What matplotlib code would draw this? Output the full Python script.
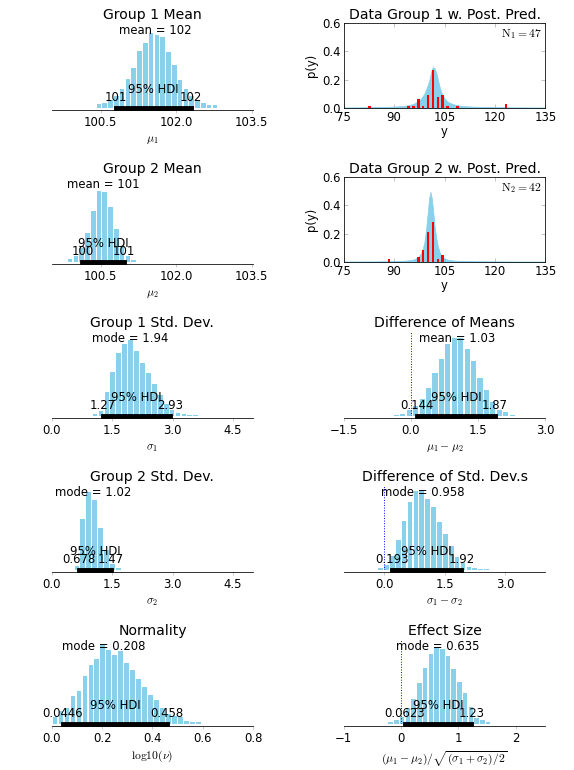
# BEST-style posterior summary: 5x2 panels

import numpy as np
import matplotlib
matplotlib.use('Agg')
from matplotlib import pyplot as plt
from matplotlib.transforms import blended_transform_factory
from matplotlib.ticker import MultipleLocator

plt.rcParams['font.family'] = ['DejaVu Sans']
plt.rcParams['font.size'] = 12
plt.rcParams['mathtext.fontset'] = 'cm'

pretty_blue = '#89d1ea'

# ---- posterior histograms (bar heights, % of tallest bar) ----
mu1_start, mu1_w = 100.47, 0.115
mu1_hist = [5, 6.5, 10, 16, 25, 39, 53, 76, 87, 100, 97, 94, 74, 57, 37, 25, 16, 10, 6.5, 4, 4]
mu1_mean = 101.58
mu1_hdi = [100.8, 102.3]

mu2_start, mu2_w = 99.895, 0.115
mu2_hist = [4, 8, 20, 40, 72, 100, 98, 78, 47, 22, 8, 3]
mu2_mean = 100.55
mu2_hdi = [100.14, 100.97]

sd1_start, sd1_w = 1.077, 0.147
sd1_hist = [3, 6, 31, 57.5, 83, 95, 100, 86, 70, 57, 42, 27, 15, 7, 3.5, 1.8, 1.3, 1.3]
sd1_mode = 1.94
sd1_hdi = [1.27, 2.93]

sd2_start, sd2_w = 0.626, 0.147
sd2_hist = [5, 66, 100, 90.5, 54, 25, 8, 2.6]
sd2_mode = 1.02
sd2_hdi = [0.678, 1.47]

dmu_start, dmu_w = -0.324, 0.1435
dmu_hist = [1.3, 2.6, 7, 13, 21, 35.5, 55, 73, 92, 100, 100, 86, 70, 49, 33, 17.5, 7, 4.3, 1.3]
dmu_mean = 1.03
dmu_hdi = [0.144, 1.87]

dsd_start, dsd_w = -0.087, 0.146
dsd_hist = [2.5, 6, 17, 37.5, 61, 86, 99, 100, 89.5, 79, 60, 45, 30, 16.5, 8, 3.4, 1.7, 1.3, 1.3]
dsd_mode = 0.958
dsd_hdi = [0.193, 1.92]

nu_start, nu_w = 0.013, 0.0238
nu_hist = [8, 16, 20.5, 35, 41, 60, 74, 82, 100, 93, 86.5, 91.5, 77, 68, 57, 47, 36, 30, 20, 13,
           9.7, 8, 3.4, 2, 2]
nu_mode = 0.208
nu_hdi = [0.0446, 0.458]

es_start, es_w = -0.18, 0.1
es_hist = [2.6, 5.6, 9, 20, 32, 53, 73, 90.5, 100, 98, 88, 71, 55, 40, 22, 8, 4.8, 1.7]
es_mode = 0.635
es_hdi = [0.0623, 1.23]

# ---- observed data (binned) ----
data_bin_w = 1.45
y1_centers = [82.7, 94.3, 95.7, 97.2, 98.6, 100.1, 101.5, 103.0, 104.4, 105.9, 108.8, 123.3]
y1_counts = [1, 1, 1, 4, 1, 6, 18, 5, 6, 1, 1, 2]
y2_centers = [88.5, 97.2, 98.6, 100.1, 101.5, 103.0, 104.4]
y2_counts = [1, 2, 5, 13, 17, 1, 3]

# ---- posterior predictive envelope (upper edge of the curve bundle) ----
pp1_x = [75, 80, 85, 90, 93, 95, 96, 97, 98, 99, 100, 100.5, 101, 101.5, 102, 102.5, 103,
         103.5, 104, 105, 106, 107, 108, 110, 113, 118, 125, 135]
pp1_y = [0.001, 0.002, 0.004, 0.008, 0.013, 0.022, 0.03, 0.045, 0.065, 0.1, 0.16, 0.2, 0.255,
         0.288, 0.28, 0.25, 0.2, 0.15, 0.11, 0.065, 0.04, 0.03, 0.022, 0.013, 0.008, 0.004,
         0.002, 0.001]
pp2_x = [75, 85, 90, 93, 95, 96, 97, 98, 98.5, 99, 99.5, 100, 100.4, 100.8, 101.2, 101.6, 102,
         102.5, 103, 103.5, 104, 105, 106, 108, 110, 115, 125, 135]
pp2_y = [0.0005, 0.002, 0.004, 0.007, 0.012, 0.018, 0.03, 0.06, 0.09, 0.14, 0.23, 0.35, 0.45,
         0.495, 0.45, 0.36, 0.26, 0.17, 0.11, 0.07, 0.045, 0.022, 0.014, 0.008, 0.005, 0.003,
         0.001, 0.0005]


def plot_posterior(ax, start, w, hist, value, hdi, stat, title, label, xlim, step, peak,
                   zero=False):
    x = start + w * np.arange(len(hist))
    ax.bar(x, hist, width=0.8 * w, color=pretty_blue, edgecolor='none')
    ax.set_ylim(0, max(hist) / peak)
    ax.set_xlim(*xlim)
    trans = blended_transform_factory(ax.transData, ax.transAxes)
    ax.text(value, 0.99, '%s = %.3g' % (stat, value), transform=trans,
            ha='center', va='top')
    if zero:
        ax.axvline(0, linestyle=':', color='b', lw=1)
    hdi_line, = ax.plot(hdi, [0, 0], lw=5.0, color='k', solid_capstyle='projecting')
    hdi_line.set_clip_on(False)
    ax.text(hdi[0], 0.04, '%.3g' % hdi[0], transform=trans, ha='center', va='bottom')
    ax.text(hdi[1], 0.04, '%.3g' % hdi[1], transform=trans, ha='center', va='bottom')
    ax.text((hdi[0] + hdi[1]) / 2, 0.14, '95% HDI', transform=trans, ha='center', va='bottom')
    ax.spines['bottom'].set_position(('outward', 2))
    for loc in ['left', 'top', 'right']:
        ax.spines[loc].set_visible(False)
    ax.set_yticks([])
    ax.xaxis.set_major_locator(MultipleLocator(step))
    ax.tick_params(axis='x', direction='out', length=3, color='0.75', top=False)
    ax.set_title(title, fontsize=14.4, pad=4)
    ax.set_xlabel(label)


def plot_data(ax, centers, counts, px, py, group):
    n = sum(counts)
    ax.fill_between(px, 0, py, color=pretty_blue, lw=0.8, edgecolor=pretty_blue, zorder=1)
    dens = np.array(counts) / (n * data_bin_w)
    ax.bar(centers, dens, width=0.5 * data_bin_w, color='r', edgecolor='none', zorder=2)
    ax.text(0.98, 0.95, r'$\mathrm{N}_{%d}=%d$' % (group, n), transform=ax.transAxes,
            ha='right', va='top')
    ax.set_xlim(75, 135)
    ax.set_ylim(0, 0.6)
    ax.xaxis.set_major_locator(MultipleLocator(15))
    ax.yaxis.set_major_locator(MultipleLocator(0.2))
    ax.tick_params(direction='in', length=4, color='0.7', top=True, right=True)
    ax.set_xlabel('y', labelpad=1)
    ax.set_ylabel('p(y)')
    ax.set_title('Data Group %d w. Post. Pred.' % group, fontsize=14.4, pad=4)


f = plt.figure(figsize=(8.2, 11), dpi=70, facecolor='white')
ax1 = f.add_subplot(5, 2, 1)
ax2 = f.add_subplot(5, 2, 2)
ax3 = f.add_subplot(5, 2, 3)
ax4 = f.add_subplot(5, 2, 4)
ax5 = f.add_subplot(5, 2, 5)
ax6 = f.add_subplot(5, 2, 6)
ax7 = f.add_subplot(5, 2, 7)
ax8 = f.add_subplot(5, 2, 8)
ax9 = f.add_subplot(5, 2, 9)
ax10 = f.add_subplot(5, 2, 10)

mu_lim = (99.53, 103.53)
sd_lim = (0.0, 5.0)
plot_posterior(ax1, mu1_start, mu1_w, mu1_hist, mu1_mean, mu1_hdi, 'mean', 'Group 1 Mean',
               r'$\mu_1$', mu_lim, 1.5, 0.883)
plot_posterior(ax3, mu2_start, mu2_w, mu2_hist, mu2_mean, mu2_hdi, 'mean', 'Group 2 Mean',
               r'$\mu_2$', mu_lim, 1.5, 0.835)
plot_posterior(ax5, sd1_start, sd1_w, sd1_hist, sd1_mode, sd1_hdi, 'mode', 'Group 1 Std. Dev.',
               r'$\sigma_1$', sd_lim, 1.5, 0.89)
plot_posterior(ax7, sd2_start, sd2_w, sd2_hist, sd2_mode, sd2_hdi, 'mode', 'Group 2 Std. Dev.',
               r'$\sigma_2$', sd_lim, 1.5, 0.917)
plot_posterior(ax6, dmu_start, dmu_w, dmu_hist, dmu_mean, dmu_hdi, 'mean', 'Difference of Means',
               r'$\mu_1 - \mu_2$', (-1.5, 3.0), 1.5, 0.92, zero=True)
plot_posterior(ax8, dsd_start, dsd_w, dsd_hist, dsd_mode, dsd_hdi, 'mode',
               'Difference of Std. Dev.s', r'$\sigma_1 - \sigma_2$', (-1.0, 4.0), 1.5, 0.937,
               zero=True)
plot_posterior(ax9, nu_start, nu_w, nu_hist, nu_mode, nu_hdi, 'mode', 'Normality',
               r'$\mathrm{log10}(\nu)$', (0.0, 0.8), 0.2, 0.934)
plot_posterior(ax10, es_start, es_w, es_hist, es_mode, es_hdi, 'mode', 'Effect Size',
               r'$(\mu_1 - \mu_2)/\sqrt{(\sigma_1 + \sigma_2)/2}$', (-1.0, 2.52), 1.0, 0.905,
               zero=True)

plot_data(ax2, y1_centers, y1_counts, pp1_x, pp1_y, 1)
plot_data(ax4, y2_centers, y2_counts, pp2_x, pp2_y, 2)

f.subplots_adjust(hspace=0.82, top=0.97, bottom=0.06, left=0.09, right=0.95, wspace=0.45)
f.savefig('out.png', dpi=70, facecolor='white')
